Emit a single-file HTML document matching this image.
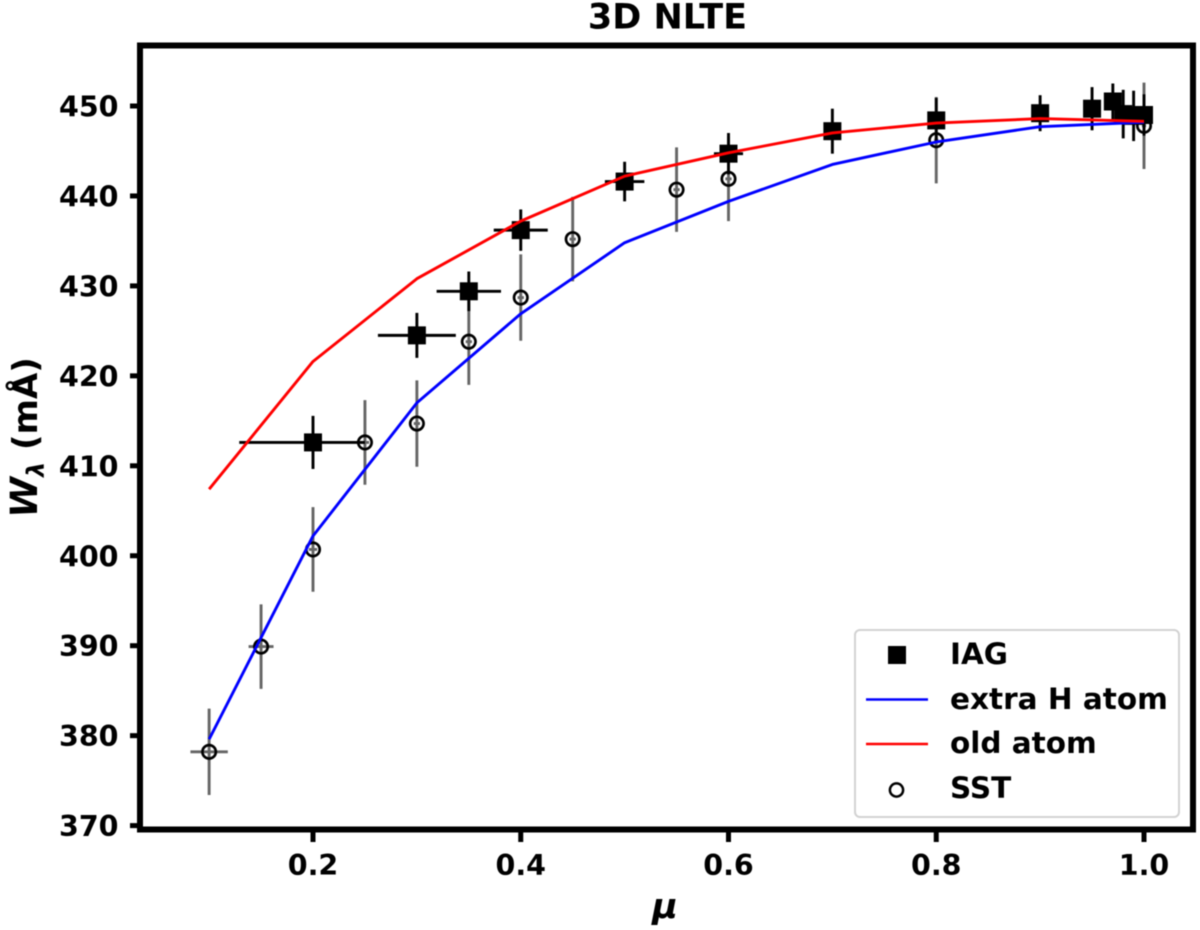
<!DOCTYPE html>
<html>
<head>
<meta charset="utf-8">
<style>
html,body{margin:0;padding:0;background:#fff;width:1200px;height:930px;overflow:hidden}
svg{display:block;filter:blur(0.45px)}
text{font-family:"DejaVu Sans","Liberation Sans",sans-serif;font-weight:bold;fill:#000}
</style>
</head>
<body>
<svg id="chart" width="1200" height="930" viewBox="0 0 1200 930" xmlns="http://www.w3.org/2000/svg">
  <rect x="0" y="0" width="1200" height="930" fill="#fff"/>
  <g id="marks"></g>
  <rect x="140" y="45.5" width="1053" height="784" fill="none" stroke="#000" stroke-width="6"/>
  <g id="axes"></g>
  <text x="667.5" y="28.5" font-size="35" text-anchor="middle">3D NLTE</text>
  <text x="665" y="918" font-size="35" font-style="italic" text-anchor="middle">μ</text>
  <text transform="translate(37,437.5) rotate(-90)" font-size="34" text-anchor="middle"><tspan font-style="italic" font-size="37">W</tspan><tspan font-style="italic" font-size="24" dy="7">λ</tspan><tspan dy="-7"> (mÅ)</tspan></text>
  <g>
    <rect x="855" y="630" width="324" height="187" rx="5" ry="5" fill="#fff" fill-opacity="0.9" stroke="#d2d2d2" stroke-width="2"/>
    <rect x="888" y="646" width="18" height="18" fill="#000"/>
    <text x="950" y="664" font-size="29.5">IAG</text>
    <line x1="866" y1="699.5" x2="928" y2="699.5" stroke="#0000ff" stroke-width="2.6"/>
    <text x="950" y="709" font-size="29.5">extra H atom</text>
    <line x1="866" y1="744" x2="928" y2="744" stroke="#ff0000" stroke-width="2.6"/>
    <text x="950" y="753" font-size="29.5">old atom</text>
    <circle cx="896.5" cy="790" r="6.6" fill="#fff" stroke="#000" stroke-width="2.5"/>
    <text x="950" y="798" font-size="29.5">SST</text>
  </g>
</svg>
<script>
var xTicks = [0.2, 0.4, 0.6, 0.8, 1.0];
var xTickLabels = ["0.2", "0.4", "0.6", "0.8", "1.0"];
var yTicks = [370, 380, 390, 400, 410, 420, 430, 440, 450];
var yTickLabels = ["370", "380", "390", "400", "410", "420", "430", "440", "450"];

var iagMu = [0.2, 0.3, 0.35, 0.4, 0.5, 0.6, 0.7, 0.8, 0.9, 0.95, 0.97, 0.98, 0.99, 1.0];
var iagW = [412.6, 424.5, 429.4, 436.2, 441.6, 444.7, 447.2, 448.4, 449.2, 449.7, 450.5, 449.1, 448.9, 449.0];
var iagWErr = [2.95, 2.5, 2.2, 2.3, 2.2, 2.3, 2.5, 2.5, 2.0, 2.4, 2.0, 2.7, 2.8, 2.3];
var iagMuErrLow = [0.071, 0.0375, 0.031, 0.026, 0.019, 0.014, 0.006, 0.004, 0.002, 0.002, 0.002, 0.002, 0.002, 0.002];
var iagMuErrHigh = [0.05, 0.0375, 0.031, 0.026, 0.019, 0.014, 0.006, 0.004, 0.002, 0.002, 0.002, 0.002, 0.002, 0.002];

var sstMu = [0.1, 0.15, 0.2, 0.25, 0.3, 0.35, 0.4, 0.45, 0.55, 0.6, 0.8, 1.0];
var sstW = [378.2, 389.9, 400.7, 412.6, 414.7, 423.8, 428.7, 435.2, 440.7, 441.9, 446.2, 447.8];
var sstWErr = [4.8, 4.7, 4.7, 4.7, 4.8, 4.8, 4.8, 4.7, 4.7, 4.7, 4.8, 4.8];
var sstMuErr = [0.018, 0.012, 0.004, 0.004, 0.003, 0.003, 0.003, 0.003, 0.003, 0.003, 0.002, 0.002];

var modelMu = [0.1, 0.2, 0.3, 0.4, 0.5, 0.6, 0.7, 0.8, 0.9, 1.0];
var extraHAtom = [379.6, 402.2, 417.0, 426.9, 434.8, 439.4, 443.5, 446.0, 447.7, 448.2];
var oldAtom = [407.4, 421.6, 430.8, 437.2, 442.2, 444.8, 447.0, 448.1, 448.6, 448.3];

var NS = 'http://www.w3.org/2000/svg';
var marks = document.getElementById('marks');
var axes = document.getElementById('axes');

function xScale(v) { return 313 + (v - 0.2) * 1038.75; }
function yScale(v) { return 106 + (450 - v) * 8.995; }

function make(tag, parent, attrs) {
  var el = document.createElementNS(NS, tag);
  for (var k in attrs) { el.setAttribute(k, attrs[k]); }
  parent.appendChild(el);
  return el;
}

function drawErrorBars(group, mu, w, wErr, muLow, muHigh, color) {
  for (var i = 0; i < mu.length; i++) {
    var v = make('line', group, {x1: xScale(mu[i]), x2: xScale(mu[i]), y1: yScale(w[i] - wErr[i]), y2: yScale(w[i] + wErr[i]), stroke: color, 'stroke-width': 2.9});
    
    
    var h = make('line', group, {x1: xScale(mu[i] - muLow[i]), x2: xScale(mu[i] + muHigh[i]), y1: yScale(w[i]), y2: yScale(w[i]), stroke: color, 'stroke-width': 2.9});
    
    
  }
}

function drawLine(values, color, name) {
  var pts = [];
  for (var i = 0; i < modelMu.length; i++) {
    pts.push(xScale(modelMu[i]) + ',' + yScale(values[i]));
  }
  var line = make('polyline', marks, {points: pts.join(' '), fill: 'none', stroke: color, 'stroke-width': 2.9, 'stroke-linejoin': 'round'});
  
  
}

var sstGroup = make('g', marks, {});


drawErrorBars(sstGroup, sstMu, sstW, sstWErr, sstMuErr, sstMuErr, '#666666');
for (var c = 0; c < sstMu.length; c++) {
  var circle = make('circle', sstGroup, {cx: xScale(sstMu[c]), cy: yScale(sstW[c]), r: 6.7, fill: 'none', stroke: '#000', 'stroke-width': 2.7});
  
  
}

var iagGroup = make('g', marks, {});


drawErrorBars(iagGroup, iagMu, iagW, iagWErr, iagMuErrLow, iagMuErrHigh, '#000000');
for (var s = 0; s < iagMu.length; s++) {
  var square = make('rect', iagGroup, {x: xScale(iagMu[s]) - 9, y: yScale(iagW[s]) - 9, width: 18, height: 18, fill: '#000'});
  
  
}

drawLine(extraHAtom, '#0000ff', 'line-extra-h-atom');
drawLine(oldAtom, '#ff0000', 'line-old-atom');

for (var i = 0; i < xTicks.length; i++) {
  var tx = xScale(xTicks[i]);
  var xt = make('line', axes, {x1: tx, x2: tx, y1: 832, y2: 842, stroke: '#000', 'stroke-width': 5});
  
  
  var xl = make('text', axes, {x: tx, y: 875, 'font-size': 28.5, 'text-anchor': 'middle'});
  xl.textContent = xTickLabels[i];
  
  
}
for (var j = 0; j < yTicks.length; j++) {
  var ty = yScale(yTicks[j]);
  var yt = make('line', axes, {x1: 130, x2: 140, y1: ty, y2: ty, stroke: '#000', 'stroke-width': 5});
  
  
  var yl = make('text', axes, {x: 118.5, y: ty + 10.5, 'font-size': 28.5, 'text-anchor': 'end'});
  yl.textContent = yTickLabels[j];
  
  
}
</script>
</body>
</html>
